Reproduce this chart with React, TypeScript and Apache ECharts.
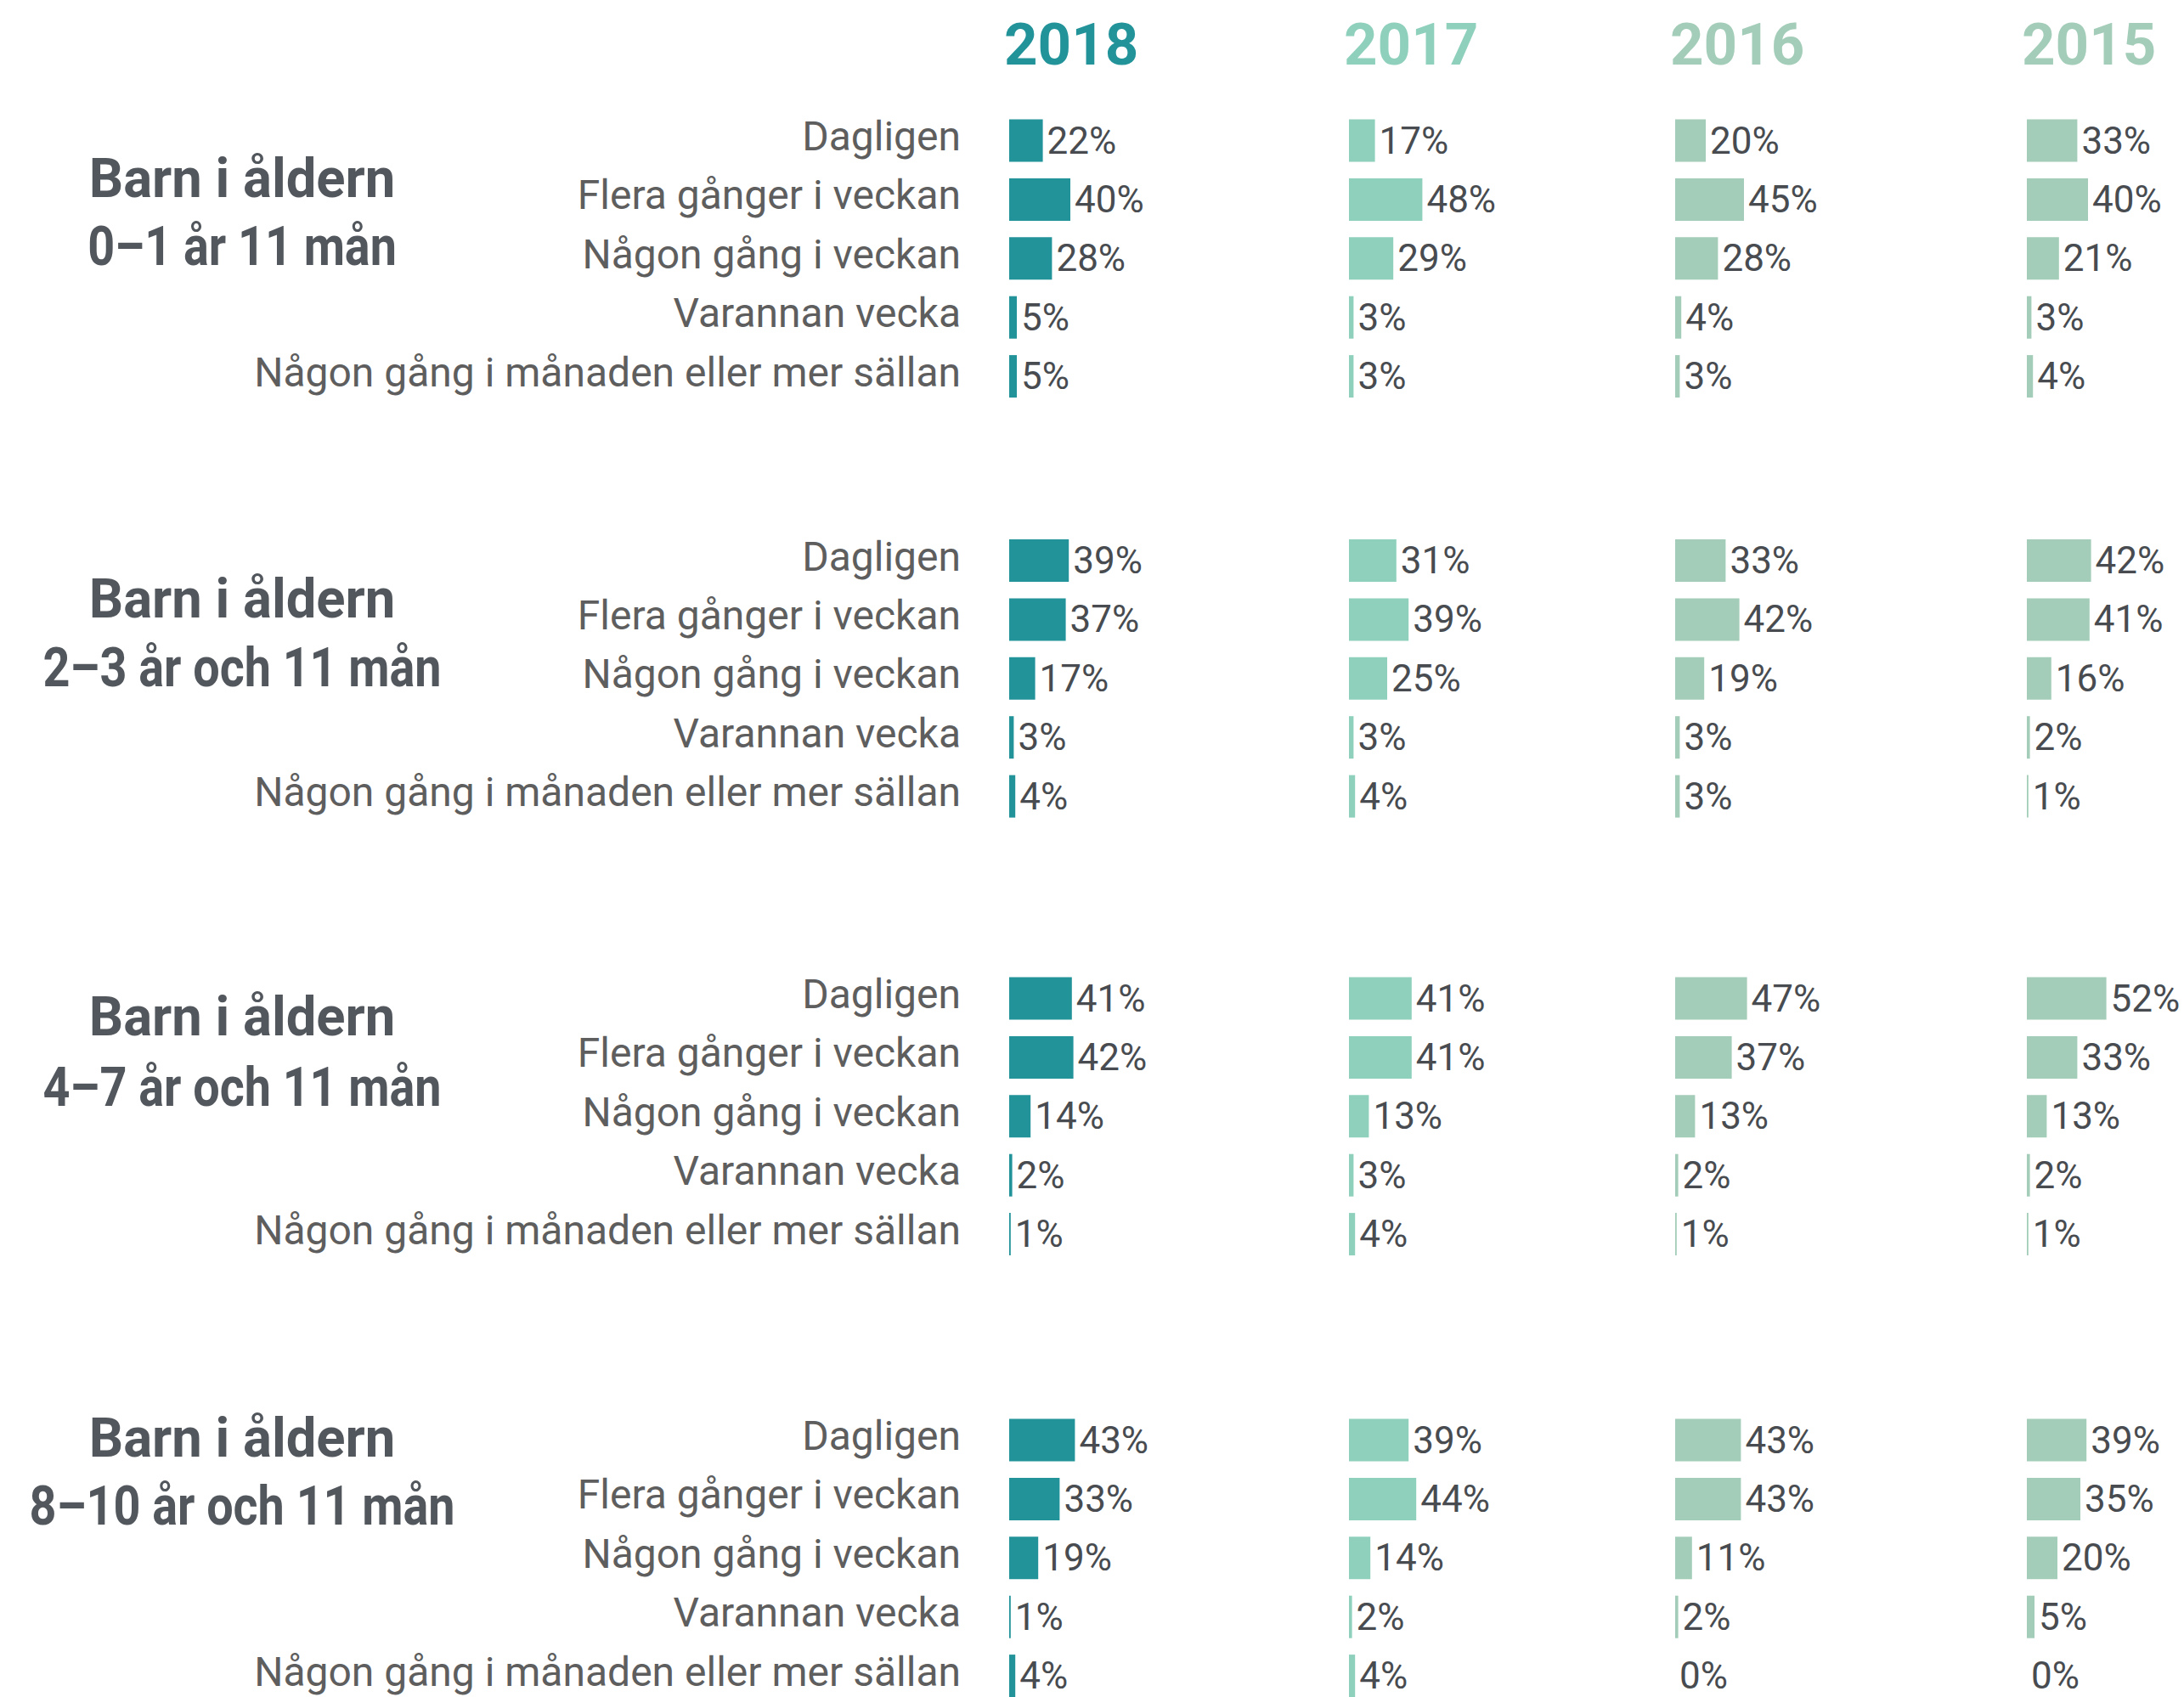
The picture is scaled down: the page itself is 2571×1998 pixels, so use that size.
import React, { useEffect, useRef } from "react";
import * as echarts from "echarts";

const categories = [
  "Dagligen",
  "Flera gånger i veckan",
  "Någon gång i veckan",
  "Varannan vecka",
  "Någon gång i månaden eller mer sällan",
];
const years = ["2018", "2017", "2016", "2015"];
const groupTitles = [
  ["Barn i åldern", "0–1 år 11 mån"],
  ["Barn i åldern", "2–3 år och 11 mån"],
  ["Barn i åldern", "4–7 år och 11 mån"],
  ["Barn i åldern", "8–10 år och 11 mån"],
];

// one row per age group, values in category order
const values2018 = [
  [22, 40, 28, 5, 5],
  [39, 37, 17, 3, 4],
  [41, 42, 14, 2, 1],
  [43, 33, 19, 1, 4],
];
const values2017 = [
  [17, 48, 29, 3, 3],
  [31, 39, 25, 3, 4],
  [41, 41, 13, 3, 4],
  [39, 44, 14, 2, 4],
];
const values2016 = [
  [20, 45, 28, 4, 3],
  [33, 42, 19, 3, 3],
  [47, 37, 13, 2, 1],
  [43, 43, 11, 2, 0],
];
const values2015 = [
  [33, 40, 21, 3, 4],
  [42, 41, 16, 2, 1],
  [52, 33, 13, 2, 1],
  [39, 35, 20, 5, 0],
];
const yearValues = [values2018, values2017, values2016, values2015];

const yearColors = ["#23939A", "#8FD0BC", "#A3CDB8", "#A3CDB8"];
const barLeft = [1188, 1588, 1972, 2386];
const firstRowCenter = [165.5, 660, 1175.5, 1695.5];
const rowPitch = 69.4;
const titleBaselines = [
  [233, 313],
  [728, 809],
  [1220, 1303],
  [1716, 1796],
];
const titleScaleX = [0.99, 0.87];

export default function App() {
  const ref = useRef<HTMLDivElement>(null);

  useEffect(() => {
    if (!ref.current) return;
    const chart = echarts.init(ref.current, undefined, { renderer: "svg" });

    const grid: any[] = [];
    const xAxis: any[] = [];
    const yAxis: any[] = [];
    const series: any[] = [];
    const graphic: any[] = [];

    for (let g = 0; g < 4; g++) {
      for (let y = 0; y < 4; y++) {
        const idx = g * 4 + y;
        grid.push({
          left: barLeft[y],
          top: firstRowCenter[g] - rowPitch / 2,
          width: 180,
          height: rowPitch * categories.length,
          containLabel: false,
          outerBoundsMode: "none",
        });
        xAxis.push({
          gridIndex: idx,
          type: "value",
          min: 0,
          max: 100,
          show: false,
        });
        yAxis.push({
          gridIndex: idx,
          type: "category",
          data: categories,
          inverse: true,
          axisLine: { show: false },
          axisTick: { show: false },
          splitLine: { show: false },
          axisLabel: {
            show: y === 0,
            interval: 0,
            margin: 57,
            fontSize: 48,
            fontFamily: "Roboto",
            color: "#5E5E5E",
            verticalAlign: "bottom",
            lineHeight: 10,
          },
        });
        series.push({
          type: "bar",
          xAxisIndex: idx,
          yAxisIndex: idx,
          data: yearValues[y][g],
          barWidth: 50,
          itemStyle: { color: yearColors[y] },
          label: {
            show: true,
            position: "right",
            distance: 5,
            formatter: "{c}%",
            fontSize: 44,
            fontFamily: "Roboto",
            color: "#484C50",
          },
        });
      }

      // group titles
      titleBaselines[g].forEach((b, i) => {
        graphic.push({
          type: "text",
          x: 285,
          y: b - 23,
          scaleX: titleScaleX[i],
          style: {
            text: groupTitles[g][i],
            fontSize: 64,
            fontWeight: "bold",
            fontFamily: "Roboto",
            fill: "#52575D",
            align: "center",
            verticalAlign: "middle",
            textAlign: "center",
            textVerticalAlign: "middle",
          },
        });
      });
    }

    years.forEach((yr, y) => {
      graphic.push({
        type: "text",
        x: barLeft[y] - 6,
        y: 52,
        style: {
          text: yr,
          fontSize: 69,
          fontWeight: "bold",
          fontFamily: "Roboto",
          fill: yearColors[y],
          align: "left",
          verticalAlign: "middle",
          textAlign: "left",
          textVerticalAlign: "middle",
        },
      });
    });

    chart.setOption({
      animation: false,
      backgroundColor: "#FFFFFF",
      grid,
      xAxis,
      yAxis,
      series,
      graphic,
    });

    return () => {
      chart.dispose();
    };
  }, []);

  return (
    <div
      ref={ref}
      style={{ position: "fixed", left: 0, top: 0, width: 2571, height: 2100 }}
    />
  );
}
